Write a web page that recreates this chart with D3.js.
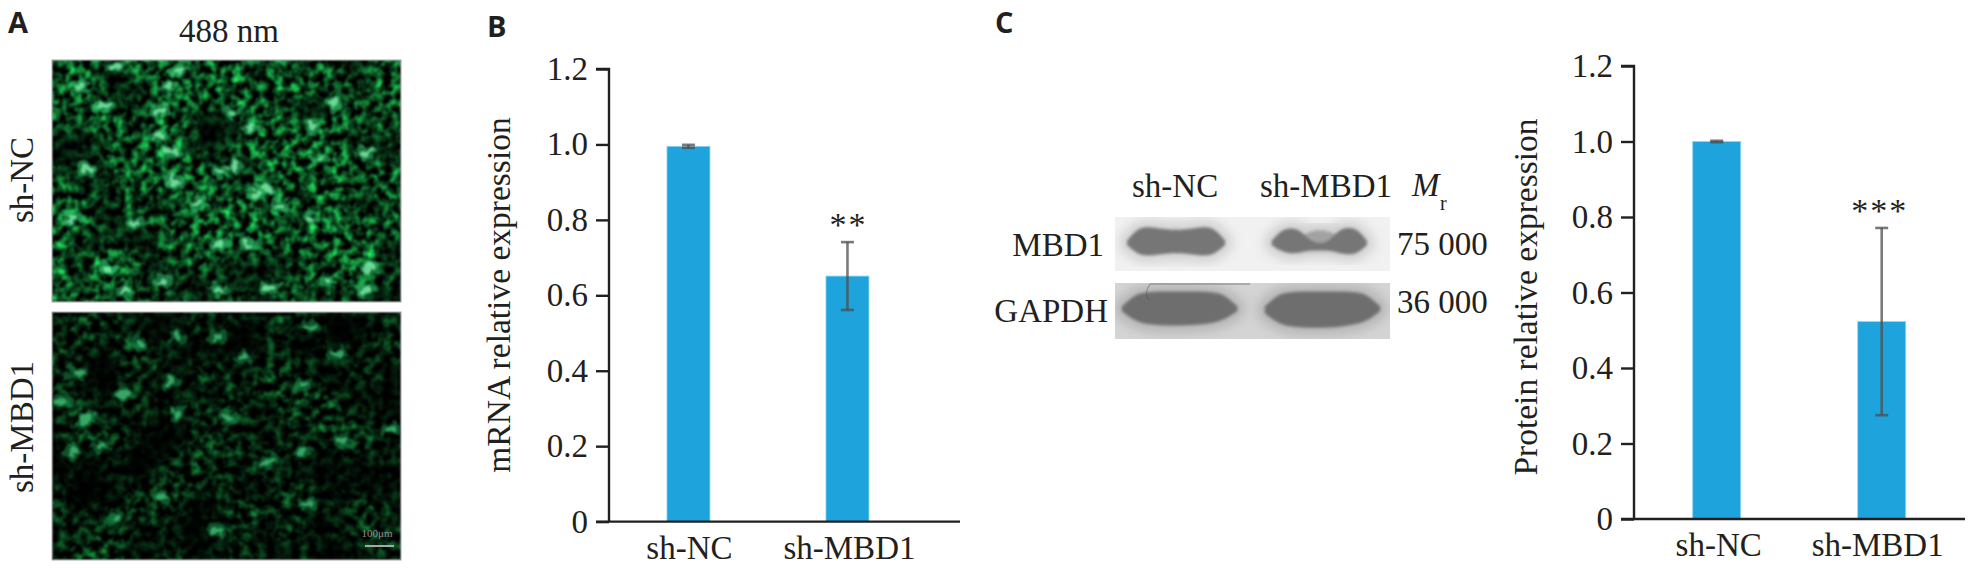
<!DOCTYPE html>
<html lang="en">
<head>
    <meta charset="UTF-8">
    <title>MBD1 knockdown</title>
    <script src="https://cdn.jsdelivr.net/npm/d3@7"></script>
    <style>
        html, body { margin: 0; padding: 0; background: #fff; }
        svg { display: block; }
        text { font-family: "Liberation Serif", serif; fill: #231f20; }
        .letter { font-family: "Open Sans", sans-serif; font-weight: 700; font-size: 29px; }
        .axis text { font-size: 33px; }
        .axis path, .axis line { stroke: #231f20; stroke-width: 2.4px; }
    </style>
</head>
<body>
<div id="container"></div>

<script>
    "use strict";

    var categories = ['sh-NC', 'sh-MBD1'];
    var yTicks = [0, 0.2, 0.4, 0.6, 0.8, 1.0, 1.2];

    var mrnaValues = [0.995, 0.651];
    var mrnaErrors = [0.004, 0.09];
    var mrnaStars = ['', '**'];

    var proteinValues = [1.0, 0.523];
    var proteinErrors = [0.002, 0.248];
    var proteinStars = ['', '***'];

    // bright cells in the micrographs (percent of image width, height)
    var ncSpots = [[8, 11], [15, 19], [18, 3], [36, 4], [33, 11], [52, 22], [31, 21], [30, 31], [57, 28], [81, 18],
        [10, 45], [34, 38], [48, 47], [35, 50], [62, 54], [58, 55], [42, 59], [6, 65], [24, 67], [56, 76], [48, 76],
        [16, 86], [74, 66], [77, 41], [16, 87], [21, 96], [48, 95], [62, 94], [79, 92], [32, 92], [90, 95], [91, 86],
        [90, 38], [74, 27], [52, 44], [66, 60]];
    var mbd1Spots = [[36, 10], [47, 10], [25, 13], [74, 6], [55, 19], [7, 25], [34, 28], [20, 33], [3, 36], [51, 43],
        [10, 43], [36, 41], [6, 57], [14, 54], [72, 56], [62, 61], [81, 17], [73, 77], [32, 75], [83, 52], [72, 29],
        [47, 88], [18, 83], [97, 47]];

    // blot band outlines (percent of panel width, then top and bottom edge in percent of panel height)
    var mbd1LaneNC = {from: 4.4, to: 40, top: [44, 22, 18, 20, 23, 24, 23, 20, 18, 22, 44], bottom: [52, 68, 72, 70, 68, 67, 68, 70, 72, 68, 52]};
    var mbd1LaneKD = {from: 57, to: 91.6, top: [44, 24, 20, 24, 44, 50, 46, 24, 19, 22, 44], bottom: [52, 64, 68, 66, 62, 62, 62, 66, 70, 68, 52]};
    var mbd1LaneKDHaze = {from: 66, to: 83, top: [40, 24, 24, 40], bottom: [56, 56, 56, 56]};
    var gapdhLaneNC = {from: 2.5, to: 44.5, top: [42, 20, 16, 15, 15, 15, 15, 16, 20, 42], bottom: [50, 68, 74, 76, 76, 76, 74, 72, 66, 50]};
    var gapdhLaneKD = {from: 54.5, to: 96.4, top: [42, 20, 16, 15, 15, 15, 15, 16, 20, 42], bottom: [54, 72, 78, 80, 80, 80, 78, 74, 68, 50]};

    var svg = d3.select('#container').append('svg')
        .attr('width', 1971)
        .attr('height', 568);

    var defs = svg.append('defs');

    // micrograph texture: fine turbulence pushed into green, dimmed by a slow turbulence
    function addTexture(id, seed, gain, offset, patch) {
        var f = defs.append('filter')
            .attr('id', id)
            .attr('x', 0).attr('y', 0).attr('width', 1).attr('height', 1)
            .attr('color-interpolation-filters', 'sRGB');
        f.append('feTurbulence')
            .attr('type', 'fractalNoise')
            .attr('baseFrequency', 0.12)
            .attr('numOctaves', 4)
            .attr('seed', seed)
            .attr('result', 'fine');
        f.append('feColorMatrix')
            .attr('in', 'fine')
            .attr('type', 'matrix')
            .attr('values', [
                gain * 0.14, 0, 0, 0, offset * 0.14,
                gain, 0, 0, 0, offset,
                gain * 0.42, 0, 0, 0, offset * 0.42,
                0, 0, 0, 0, 1
            ].join(' '))
            .attr('result', 'green');
        f.append('feTurbulence')
            .attr('type', 'fractalNoise')
            .attr('baseFrequency', 0.016)
            .attr('numOctaves', 2)
            .attr('seed', seed + 3)
            .attr('result', 'slow');
        f.append('feColorMatrix')
            .attr('in', 'slow')
            .attr('type', 'matrix')
            .attr('values', [
                patch, 0, 0, 0, -0.4,
                patch, 0, 0, 0, -0.4,
                patch, 0, 0, 0, -0.4,
                0, 0, 0, 0, 1
            ].join(' '))
            .attr('result', 'mask');
        f.append('feComposite')
            .attr('in', 'green')
            .attr('in2', 'mask')
            .attr('operator', 'arithmetic')
            .attr('k1', 1).attr('k2', 0).attr('k3', 0).attr('k4', 0);
        f.append('feGaussianBlur').attr('stdDeviation', 0.8);
    }
    addTexture('textureNC', 4, 2.0, -0.72, 2.5);
    addTexture('textureKD', 11, 1.4, -0.55, 2.0);

    // irregular cell shapes for the bright spots
    var cellShape = defs.append('filter')
        .attr('id', 'cellShape')
        .attr('x', '-10%').attr('y', '-10%').attr('width', '120%').attr('height', '120%');
    cellShape.append('feTurbulence')
        .attr('type', 'fractalNoise')
        .attr('baseFrequency', 0.1)
        .attr('numOctaves', 2)
        .attr('seed', 7)
        .attr('result', 'warp');
    cellShape.append('feDisplacementMap')
        .attr('in', 'SourceGraphic')
        .attr('in2', 'warp')
        .attr('scale', 16)
        .attr('xChannelSelector', 'R')
        .attr('yChannelSelector', 'G');
    cellShape.append('feGaussianBlur').attr('stdDeviation', 1.3);

    [['soft1', 1.8], ['soft6', 6]].forEach(function (d) {
        defs.append('filter')
            .attr('id', d[0])
            .attr('x', '-20%').attr('y', '-40%').attr('width', '140%').attr('height', '180%')
            .append('feGaussianBlur').attr('stdDeviation', d[1]);
    });

    function drawMicrograph(x, y, w, h, texture, spots, glow, core) {
        var gx = d3.scaleLinear().domain([0, 100]).range([x, x + w]);
        var gy = d3.scaleLinear().domain([0, 100]).range([y, y + h]);
        var clipId = 'clip' + texture;
        defs.append('clipPath').attr('id', clipId)
            .append('rect').attr('x', x).attr('y', y).attr('width', w).attr('height', h);

        var g = svg.append('g').attr('clip-path', 'url(#' + clipId + ')');
        g.append('rect')
            .attr('x', x).attr('y', y).attr('width', w).attr('height', h)
            .attr('filter', 'url(#' + texture + ')');
        g.append('g').attr('filter', 'url(#cellShape)')
            .selectAll('ellipse').data(spots).join('ellipse')
            .attr('cx', function (d) { return gx(d[0]); })
            .attr('cy', function (d) { return gy(d[1]); })
            .attr('rx', 10).attr('ry', 7)
            .attr('fill', glow).attr('fill-opacity', 0.6);
        g.append('g').attr('filter', 'url(#cellShape)')
            .selectAll('ellipse').data(spots).join('ellipse')
            .attr('cx', function (d) { return gx(d[0]); })
            .attr('cy', function (d) { return gy(d[1]); })
            .attr('rx', 5).attr('ry', 3.4)
            .attr('fill', core).attr('fill-opacity', 0.85);
        svg.append('rect')
            .attr('x', x).attr('y', y).attr('width', w).attr('height', h)
            .attr('fill', 'none').attr('stroke', '#8a8a8a').attr('stroke-width', 0.8);
    }

    drawMicrograph(52, 60, 349, 242, 'textureNC', ncSpots, '#2cb565', '#78e8a2');
    drawMicrograph(52, 312, 349, 248, 'textureKD', mbd1Spots, '#137a3f', '#3fb56e');

    // scale bar
    svg.append('text').text('100μm')
        .attr('x', 377).attr('y', 537)
        .attr('text-anchor', 'middle')
        .attr('font-size', 11)
        .style('fill', '#8f8f8f');
    svg.append('line')
        .attr('x1', 365).attr('x2', 394)
        .attr('y1', 546).attr('y2', 546)
        .attr('stroke', '#a8a8a8').attr('stroke-width', 2);

    // panel letters
    svg.append('text').attr('class', 'letter').text('A').attr('x', 8).attr('y', 33);
    svg.append('text').attr('class', 'letter').text('B').attr('x', 487).attr('y', 37);
    svg.append('text').attr('class', 'letter').text('C').attr('x', 995).attr('y', 33);

    svg.append('text').text('488 nm')
        .attr('x', 229).attr('y', 42)
        .attr('text-anchor', 'middle')
        .attr('font-size', 33);

    [['sh-NC', 180], ['sh-MBD1', 427]].forEach(function (d) {
        svg.append('text').text(d[0])
            .attr('transform', 'translate(33,' + d[1] + ') rotate(-90)')
            .attr('text-anchor', 'middle')
            .attr('font-size', 33);
    });

    // western blot
    function drawBlot(x, y, w, h, background, halo, lanes, colors) {
        var gx = d3.scaleLinear().domain([0, 100]).range([x, x + w]);
        var gy = d3.scaleLinear().domain([0, 100]).range([y, y + h]);
        var clipId = 'blot' + y;
        defs.append('clipPath').attr('id', clipId)
            .append('rect').attr('x', x).attr('y', y).attr('width', w).attr('height', h);

        var g = svg.append('g').attr('clip-path', 'url(#' + clipId + ')');
        g.append('rect')
            .attr('x', x).attr('y', y).attr('width', w).attr('height', h)
            .attr('fill', background);

        var outlines = lanes.map(function (lane) {
            var at = d3.scaleLinear().domain([0, lane.top.length - 1]).range([lane.from, lane.to]);
            return d3.area()
                .x(function (d, i) { return gx(at(i)); })
                .y0(function (d) { return gy(d); })
                .y1(function (d, i) { return gy(lane.bottom[i]); })
                .curve(d3.curveBasis)(lane.top);
        });
        // soft halos first so they stay under every band
        outlines.forEach(function (d) {
            g.append('path')
                .attr('d', d)
                .attr('fill', 'none')
                .attr('stroke', halo)
                .attr('stroke-width', 14)
                .attr('filter', 'url(#soft6)');
        });
        outlines.forEach(function (d, n) {
            g.append('path')
                .attr('d', d)
                .attr('fill', colors[n])
                .attr('filter', 'url(#soft1)');
        });
        return g;
    }

    drawBlot(1115, 217, 275, 54, '#f1f1f1', '#cfcfcf',
        [mbd1LaneNC, mbd1LaneKDHaze, mbd1LaneKD], ['#767676', '#a2a2a2', '#767676']);

    var gapdhBlot = drawBlot(1115, 283, 275, 56, '#d4d4d4', '#b4b4b4',
        [gapdhLaneNC, gapdhLaneKD], ['#6e6e6e', '#6e6e6e']);
    gapdhBlot.append('line')
        .attr('x1', 1150).attr('x2', 1250)
        .attr('y1', 284).attr('y2', 284)
        .attr('stroke', '#6a6a6a').attr('stroke-width', 1.6)
        .attr('stroke-opacity', 0.5);
    gapdhBlot.append('path')
        .attr('d', 'M1150,284 C1146,290 1145,296 1149,300')
        .attr('fill', 'none').attr('stroke', '#555').attr('stroke-width', 1.2)
        .attr('stroke-opacity', 0.45);

    [['sh-NC', 1132, 197], ['sh-MBD1', 1260, 197]].forEach(function (d) {
        svg.append('text').text(d[0]).attr('x', d[1]).attr('y', d[2]).attr('font-size', 33);
    });
    svg.append('text').text('M')
        .attr('x', 1412).attr('y', 196)
        .attr('font-size', 33).attr('font-style', 'italic');
    svg.append('text').text('r')
        .attr('x', 1440).attr('y', 210)
        .attr('font-size', 20);
    [['MBD1', 1104, 256], ['GAPDH', 1108, 322]].forEach(function (d) {
        svg.append('text').text(d[0])
            .attr('x', d[1]).attr('y', d[2])
            .attr('text-anchor', 'end')
            .attr('font-size', 33);
    });
    [['75 000', 255], ['36 000', 313]].forEach(function (d) {
        svg.append('text').text(d[0]).attr('x', 1397).attr('y', d[1]).attr('font-size', 33);
    });

    // bar charts
    function drawBars(settings) {
        var x = d3.scaleBand()
            .domain(categories)
            .range([settings.left, settings.right])
            .paddingInner(settings.paddingInner)
            .paddingOuter(settings.paddingOuter)
            .align(settings.align);
        var y = d3.scaleLinear()
            .domain([0, 1.2])
            .range([settings.bottom, settings.top]);

        var g = svg.append('g');

        g.selectAll('rect.bar').data(settings.values).join('rect')
            .attr('class', 'bar')
            .attr('x', function (d, i) { return x(categories[i]); })
            .attr('y', function (d) { return y(d); })
            .attr('width', x.bandwidth())
            .attr('height', function (d) { return y(0) - y(d); })
            .attr('fill', '#1ea3dc')
            .attr('stroke', '#8fd6f2')
            .attr('stroke-width', 0.8);

        var mid = function (i) { return x(categories[i]) + x.bandwidth() / 2; };

        settings.values.forEach(function (v, i) {
            var err = settings.errors[i];
            var bar = g.append('g')
                .attr('stroke', '#4d4d4d')
                .attr('stroke-opacity', 0.75)
                .attr('stroke-width', 2.6)
                .attr('fill', 'none');
            bar.append('line')
                .attr('x1', mid(i)).attr('x2', mid(i))
                .attr('y1', y(v + err)).attr('y2', y(v - err));
            [v + err, v - err].forEach(function (e) {
                bar.append('line')
                    .attr('x1', mid(i) - 6.5).attr('x2', mid(i) + 6.5)
                    .attr('y1', y(e)).attr('y2', y(e));
            });
            if (settings.stars[i]) {
                g.append('text').text(settings.stars[i])
                    .attr('x', mid(i) + settings.starShift)
                    .attr('y', y(v + err) - 6)
                    .attr('text-anchor', 'middle')
                    .attr('font-size', 34)
                    .attr('letter-spacing', 2);
            }
        });

        g.append('g')
            .attr('class', 'axis')
            .attr('transform', 'translate(' + settings.left + ',0)')
            .call(d3.axisLeft(y)
                .tickValues(yTicks)
                .tickSize(13)
                .tickPadding(8)
                .tickFormat(function (d) { return d === 0 ? '0' : d3.format('.1f')(d); }))
            .call(function (a) {
                a.select('.domain').attr('d', 'M-13,' + y(1.2) + 'H0V' + y(0));
            });

        g.append('g')
            .attr('class', 'axis')
            .attr('transform', 'translate(0,' + y(0) + ')')
            .call(d3.axisBottom(x).tickSize(0).tickPadding(14))
            .call(function (a) {
                a.select('.domain').attr('d', 'M' + (settings.left - 13) + ',0H' + settings.right);
                a.selectAll('.tick text')
                    .attr('dx', function (d, i) { return settings.labelShift[i]; });
            });

        g.append('text').text(settings.title)
            .attr('transform', 'translate(' + settings.titleX + ',' + settings.titleY + ') rotate(-90)')
            .attr('text-anchor', 'middle')
            .attr('font-size', 33.5);
    }

    drawBars({
        left: 609, right: 960, top: 69, bottom: 521.6,
        paddingInner: 0.7296, paddingOuter: 0.4686, align: 0.389,
        values: mrnaValues, errors: mrnaErrors, stars: mrnaStars,
        starShift: 1, labelShift: [1, 2],
        title: 'mRNA relative expression', titleX: 510, titleY: 295
    });

    drawBars({
        left: 1634, right: 1965, top: 66, bottom: 519,
        paddingInner: 0.709, paddingOuter: 0.3576, align: 0.4975,
        values: proteinValues, errors: proteinErrors, stars: proteinStars,
        starShift: -2, labelShift: [2, -4],
        title: 'Protein relative expression', titleX: 1537, titleY: 297
    });
</script>
</body>
</html>
